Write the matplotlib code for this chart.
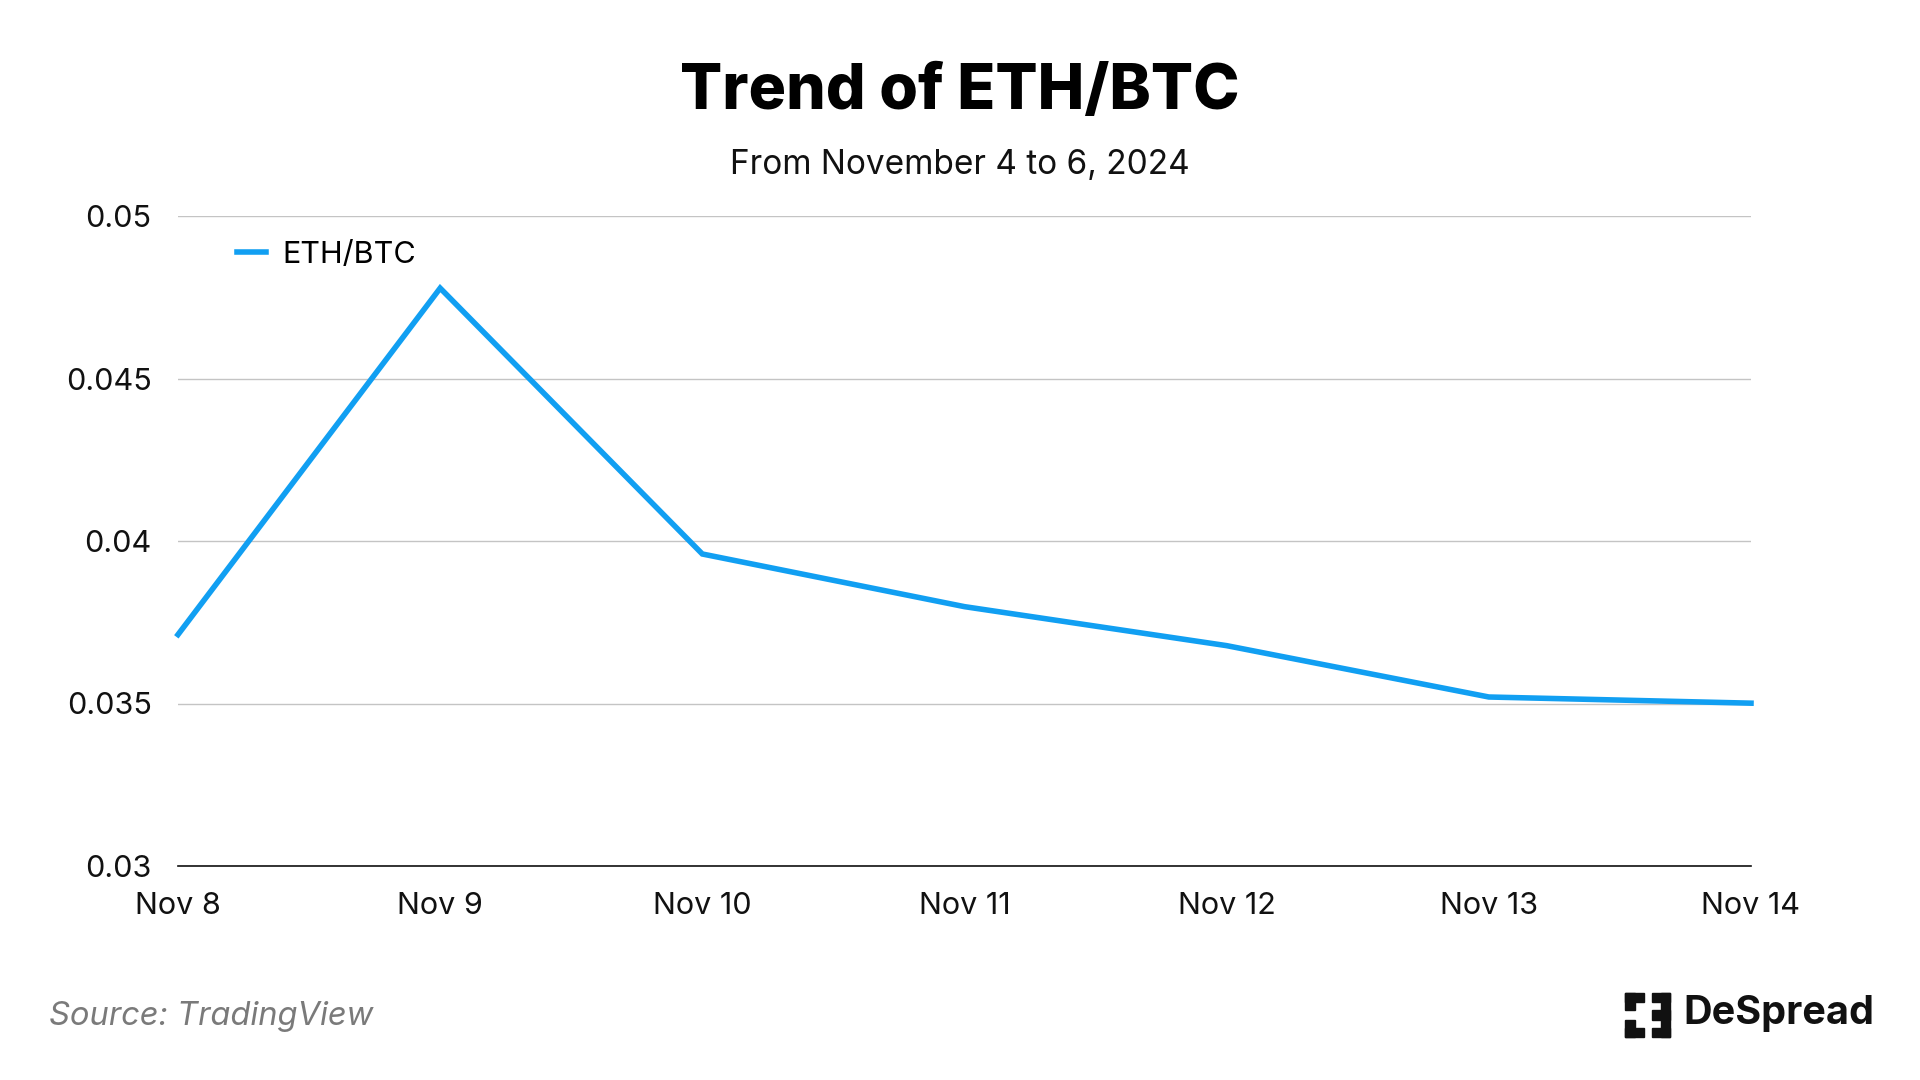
import matplotlib
matplotlib.use('Agg')
import matplotlib.pyplot as plt
from matplotlib.patches import Rectangle

# data
dates = ['Nov 8', 'Nov 9', 'Nov 10', 'Nov 11', 'Nov 12', 'Nov 13', 'Nov 14']
eth_btc = [0.03712, 0.04778, 0.0396, 0.03798, 0.03678, 0.0352, 0.03501]
y_ticks = [0.03, 0.035, 0.04, 0.045, 0.05]
y_labels = ['0.03', '0.035', '0.04', '0.045', '0.05']

plt.rcParams['font.family'] = ['Inter', 'DejaVu Sans']

fig = plt.figure(figsize=(19.2, 10.8), dpi=100)
fig.patch.set_facecolor('white')
ax = fig.add_axes([178 / 1920, 1 - 866 / 1080, (1751 - 178) / 1920, (866 - 216) / 1080])

x = list(range(len(dates)))
ax.plot(x, eth_btc, color='#119ff2', linewidth=4.0, label='ETH/BTC',
        solid_joinstyle='miter', clip_on=False)

ax.set_xlim(0, len(dates) - 1)
ax.set_ylim(0.03, 0.05)
ax.set_xticks(x)
ax.set_xticklabels(dates)
ax.set_yticks(y_ticks)
ax.set_yticklabels(y_labels)
ax.tick_params(axis='both', length=0, labelsize=22, colors='#111111')
ax.tick_params(axis='y', pad=19)
ax.tick_params(axis='x', pad=19)
ax.grid(axis='y', color='#c4c4c4', linewidth=1.0)
ax.set_axisbelow(True)
for side in ['top', 'right', 'left']:
    ax.spines[side].set_visible(False)
ax.spines['bottom'].set_color('#111111')
ax.spines['bottom'].set_linewidth(1.2)

leg = ax.legend(loc='upper left', bbox_to_anchor=(0.02, 1.004), frameon=False,
                fontsize=22, handlelength=0.95, handletextpad=0.55)

fig.text(0.5, 1 - 93 / 1080, 'Trend of ETH/BTC', ha='center', va='center',
         fontsize=45, fontweight='heavy', color='#000000')
fig.text(0.5, 1 - 165 / 1080, 'From November 4 to 6, 2024', ha='center', va='center',
         fontsize=24, color='#111111')
fig.text(49 / 1920, 1 - 1017 / 1080, 'Source: TradingView', ha='left', va='center',
         fontsize=23.5, style='italic', color='#7a7a7a')

# DeSpread logo, approximated with blocks
blocks = [
    (1625, 993, 10, 17), (1625, 993, 19, 9),
    (1625, 1020, 10, 17), (1625, 1028, 19, 9),
    (1661, 993, 9, 44), (1652, 993, 18, 9),
    (1652, 1010, 18, 10), (1652, 1028, 18, 9),
]
for bx, by, bw, bh in blocks:
    fig.patches.append(Rectangle((bx / 1920, 1 - (by + bh) / 1080), bw / 1920, bh / 1080,
                                 transform=fig.transFigure, color='#111111'))
fig.text(1683 / 1920, 1 - 1014 / 1080, 'DeSpread', ha='left', va='center',
         fontsize=28.5, fontweight='bold', color='#111111')

fig.savefig('out.png', dpi=100, facecolor='white')
